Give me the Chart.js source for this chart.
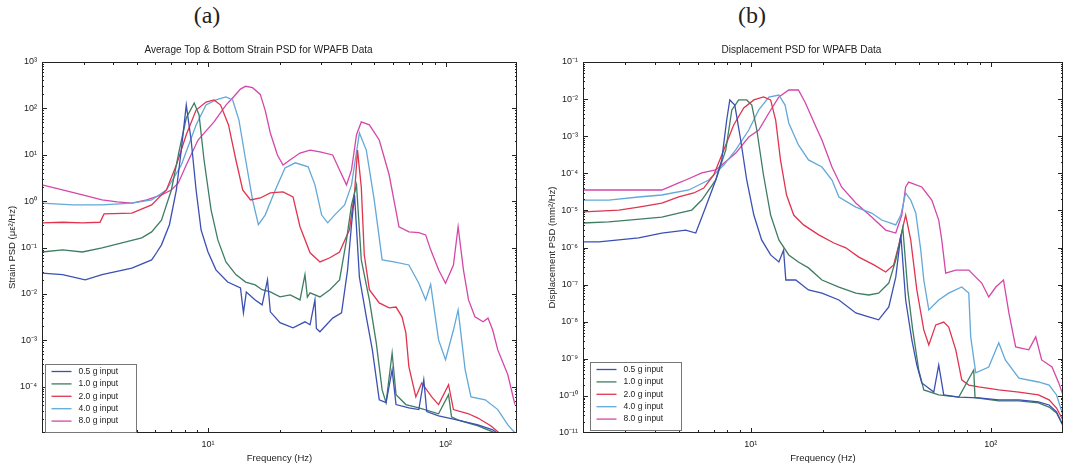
<!DOCTYPE html>
<html>
<head>
<meta charset="utf-8">
<script src="https://cdn.jsdelivr.net/npm/chart.js@4.4.1/dist/chart.umd.min.js"></script>
<style>
  html, body { margin: 0; padding: 0; background: #fff; }
  #page { position: relative; width: 1066px; height: 470px; overflow: hidden; background: #fff; }
  .tag { position: absolute; top: 3px; font: 24px "Liberation Serif", "DejaVu Serif", serif; color: #222; line-height: 1; transform: translateX(-50%); }
  canvas { position: absolute; }
</style>
</head>
<body>
<div id="page">
  <div class="tag" style="left:207px">(a)</div>
  <div class="tag" style="left:752px">(b)</div>
  <canvas id="chartA" width="530" height="430" style="left:0;top:40px"></canvas>
  <canvas id="chartB" width="526" height="430" style="left:540px;top:40px"></canvas>
</div>
<script>
// ===== DADOS =====
// [Hz, PSD]
const seriesNames = ['0.5 g input', '1.0 g input', '2.0 g input', '4.0 g input', '8.0 g input'];
const seriesColors = ['#3c50b4', '#3f7d62', '#e0344f', '#63a8d8', '#d447a8'];

const xTicks = [10, 100];
const xTickLabels = ['10¹', '10²'];

const yTicksA = [1e3, 1e2, 1e1, 1e0, 1e-1, 1e-2, 1e-3, 1e-4];
const yTickLabelsA = ['10³', '10²', '10¹', '10⁰', '10⁻¹', '10⁻²', '10⁻³', '10⁻⁴'];
const yTicksB = [1e-1, 1e-2, 1e-3, 1e-4, 1e-5, 1e-6, 1e-7, 1e-8, 1e-9, 1e-10, 1e-11];
const yTickLabelsB = ['10⁻¹', '10⁻²', '10⁻³', '10⁻⁴', '10⁻⁵', '10⁻⁶', '10⁻⁷', '10⁻⁸', '10⁻⁹', '10⁻¹⁰', '10⁻¹¹'];

// (a) strain PSD
const strain05 = [[2,0.028],[2.44,0.026],[3.04,0.020],[3.58,0.026],[4.78,0.036],[5.79,0.054],[6.07,0.077],[6.37,0.114],[6.88,0.31],[7.36,1.74],[7.72,12.7],[8.1,118],[8.49,20.8],[8.91,1.74],[9.35,0.24],[10,0.080],[10.8,0.033],[12.1,0.018],[13.7,0.0135],[14.1,0.0039],[14.5,0.011],[15.8,0.0074],[16.9,0.0058],[17.8,0.020],[18.3,0.0041],[20.1,0.0024],[22.8,0.00185],[25.6,0.0025],[26.9,0.00215],[28.2,0.0074],[28.6,0.0018],[29.6,0.00152],[33.5,0.0030],[36.5,0.0039],[38.7,0.033],[40.2,0.31],[41.4,1.36],[43.4,0.023],[46.4,0.0032],[49.2,6.2e-4],[52.6,5.2e-5],[56.2,4.5e-5],[59.6,2.3e-4],[61.9,4.1e-5],[70.1,3.5e-5],[77.2,3.2e-5],[81,1.4e-4],[83.4,2.9e-5],[93.5,2.35e-5],[113,1.9e-5],[137,1.5e-5],[158,1.17e-5],[175,8e-6]];
const strain10 = [[2,0.080],[2.44,0.089],[2.96,0.080],[3.58,0.098],[4.34,0.126],[5.26,0.161],[5.79,0.217],[6.37,0.39],[7.01,1.74],[7.57,12.6],[8.1,62],[8.75,131],[9.17,72],[9.62,7.8],[10.3,0.65],[11,0.146],[11.9,0.049],[13.1,0.026],[14.4,0.018],[15.8,0.0156],[16.9,0.0123],[18.3,0.011],[20.1,0.0086],[22.2,0.0095],[24.4,0.0074],[25.6,0.026],[26.2,0.0085],[26.9,0.0105],[29.6,0.0086],[32.6,0.0123],[35.8,0.020],[38.3,0.146],[40.2,0.83],[42.2,2.24],[44.2,0.054],[47.8,0.0074],[51.1,8.8e-4],[54.1,8.5e-5],[56.2,4.5e-5],[59.6,5.3e-4],[61.9,6.7e-5],[68.1,4.1e-5],[77.2,3.5e-5],[93.5,2.6e-5],[103,6.7e-5],[106,2.24e-5],[113,1.9e-5],[137,1.43e-5],[158,1.06e-5],[169,8.5e-6]];
const strain20 = [[2,0.34],[2.44,0.35],[2.96,0.34],[3.51,0.35],[3.65,0.53],[4.78,0.55],[5.79,0.83],[6.68,1.74],[7.36,6.0],[8.1,27],[8.91,92],[9.81,137],[10.6,152],[11.3,118],[12.2,44],[13.1,7.8],[14,1.74],[15.1,1.06],[16.6,1.17],[18.3,1.5],[20.7,1.58],[22.8,1.23],[24.4,0.28],[26.9,0.077],[29.6,0.049],[32.6,0.060],[35.8,0.080],[39.4,0.24],[41.4,1.5],[42.6,12.6],[44.2,2.0],[45.5,0.069],[47.8,0.0123],[52.6,0.0064],[57.9,0.005],[61.9,0.0052],[65.6,0.0032],[68.1,0.00144],[70.1,2.7e-4],[75,6.0e-5],[79.4,1.2e-4],[87.5,6.0e-5],[93.5,4.1e-5],[103,1.1e-4],[108,3.2e-5],[125,2.6e-5],[137,2.1e-5],[155,1.43e-5],[166,1.06e-5],[175,8.5e-6]];
const strain40 = [[2,0.91],[2.69,0.83],[3.58,0.83],[4.78,0.91],[5.79,1.06],[6.68,1.74],[7.72,6.0],[8.91,44],[9.81,118],[10.8,152],[11.9,176],[12.7,152],[13.5,56],[14.4,7.8],[15.4,1.06],[16.3,0.31],[17.4,0.50],[19.2,1.74],[21.1,5.2],[23.3,6.7],[26.4,5.5],[28.2,2.24],[30.1,0.50],[31.9,0.34],[34.1,0.50],[37.6,0.83],[40.2,2.24],[43.4,29.5],[46.4,12.6],[50.1,1.06],[54.1,0.054],[60.7,0.049],[70.1,0.042],[77.2,0.017],[82.5,0.0074],[86.6,0.016],[93.5,0.00102],[100,3.8e-4],[108,0.00166],[113,0.0045],[121,2.3e-4],[128,6.0e-5],[147,5.2e-5],[166,3.2e-5],[183,1.5e-5],[200,9e-6]];
const strain80 = [[2,2.24],[2.44,1.74],[2.96,1.36],[3.58,1.06],[4.14,0.96],[4.78,0.91],[5.52,1.06],[6.37,1.36],[7.01,1.74],[7.5,2.47],[8.1,6.0],[9.08,20.8],[10.6,51],[11.9,118],[12.8,176],[13.7,260],[14.4,300],[15.4,280],[16.6,200],[17.4,92],[18.3,29.5],[19.6,9.9],[20.7,6.0],[22.2,7.8],[24.4,10.9],[26.9,12.6],[29.6,11.5],[33.5,9.9],[35.8,4.7],[38.3,2.24],[40.2,4.7],[42.2,27],[44.2,51],[47.8,44],[52.6,20.8],[57.9,3.7],[63.7,0.28],[70.1,0.217],[77.2,0.21],[82.5,0.187],[86.6,0.089],[93.5,0.033],[100,0.017],[108,0.042],[113,0.28],[119,0.033],[125,0.0074],[133,0.0032],[144,0.0025],[151,0.0030],[158,0.00166],[166,6.2e-4],[183,1.8e-4],[196,4.1e-5]];

// (b) displacement PSD
const disp05 = [[2,1.41e-6],[2.33,1.41e-6],[2.82,1.6e-6],[3.41,1.82e-6],[4.26,2.45e-6],[5.36,2.95e-6],[5.9,2.45e-6],[6.49,1.23e-5],[7.15,6.6e-5],[7.57,2.29e-4],[7.94,2.73e-3],[8.18,9.5e-3],[8.58,6.9e-3],[9.08,7.9e-4],[9.62,6.6e-5],[10.3,7.5e-6],[11.1,1.6e-6],[12.1,6.3e-7],[13.1,4.07e-7],[13.7,8.5e-7],[14,1.33e-7],[15.4,1.33e-7],[17.4,7.2e-8],[19.8,5.9e-8],[23.3,3.85e-8],[27.4,1.72e-8],[31,1.35e-8],[34.1,1.12e-8],[37.6,2.5e-8],[40.2,1.59e-7],[42.2,2.19e-6],[44.2,3.85e-8],[46.9,3.24e-9],[49.2,6.8e-10],[51.6,2.24e-10],[57.9,1.27e-10],[60.7,6.8e-10],[63.7,1.06e-10],[73.6,9.3e-11],[89.1,8.8e-11],[108,7.8e-11],[131,7.8e-11],[158,6.9e-11],[175,5.7e-11],[188,3.7e-11],[200,1.6e-11]];
const disp10 = [[2,4.57e-6],[2.56,4.9e-6],[3.1,5.5e-6],[4.26,6.6e-6],[5.01,8.5e-6],[5.68,1.02e-5],[6.25,1.9e-5],[7.15,6.6e-5],[7.87,4.26e-4],[8.34,5.1e-3],[8.91,9.5e-3],[9.62,9.5e-3],[10.1,6.9e-3],[10.6,1.47e-3],[11.3,9.0e-5],[12.1,7.5e-6],[13.1,1.6e-6],[14.4,6.3e-7],[15.8,4.07e-7],[17.4,2.82e-7],[19.8,1.33e-7],[23.3,8.6e-8],[27.4,5.9e-8],[31,5.25e-8],[34.1,5.9e-8],[37.6,1.1e-7],[40.2,4.6e-7],[43,3.4e-6],[45.1,7.2e-8],[47.3,6.0e-9],[50.1,5.0e-10],[52.6,1.45e-10],[60.7,1.06e-10],[73.6,9.3e-11],[84.9,5.0e-10],[86,9.0e-11],[108,7.3e-11],[131,7.3e-11],[158,6.5e-11],[175,5.0e-11],[188,3.45e-11],[200,1.6e-11]];
const disp20 = [[2,9.1e-6],[2.33,9.6e-6],[2.82,1.02e-5],[3.41,1.23e-5],[4.26,1.58e-5],[5.01,2.3e-5],[5.79,2.95e-5],[6.37,4.0e-5],[7.01,9.0e-5],[7.72,4.26e-4],[8.49,2.0e-3],[9.35,5.75e-3],[10.3,9.5e-3],[11.3,1.14e-2],[12.1,9.5e-3],[12.7,2.73e-3],[13.3,2.29e-4],[14.1,2.6e-5],[15.1,7.5e-6],[16.6,4.07e-6],[19.2,2.19e-6],[22.2,1.32e-6],[24.9,9.8e-7],[28.2,5.5e-7],[32.6,3.39e-7],[36.5,2.19e-7],[39.4,3.39e-7],[41.4,1.17e-6],[44.2,7.5e-6],[46.4,1.6e-6],[49.2,7.2e-8],[52.6,6.0e-9],[55.2,2.36e-9],[59,8.2e-9],[63.7,9.8e-9],[66.8,7.2e-9],[71.5,1.74e-9],[75.7,2.7e-10],[81,1.96e-10],[89.1,1.74e-10],[108,1.45e-10],[131,1.27e-10],[158,1.06e-10],[175,7.8e-11],[188,4.7e-11],[200,2.2e-11]];
const disp40 = [[2,1.9e-5],[2.56,1.9e-5],[3.41,2.3e-5],[4.26,2.6e-5],[5.52,3.55e-5],[6.68,6.6e-5],[7.72,1.67e-4],[8.66,4.26e-4],[9.81,1.47e-3],[10.8,5.1e-3],[11.9,1.14e-2],[13.1,1.29e-2],[13.9,6.9e-3],[14.4,2.27e-3],[15.8,5.8e-4],[17.4,2.29e-4],[19.8,1.48e-4],[21.8,6.6e-5],[23.3,2.3e-5],[27.4,1.23e-5],[31.9,8.5e-6],[35.1,5.5e-6],[40.2,4.07e-6],[42.2,7.5e-6],[44.2,2.95e-5],[46.4,1.9e-5],[48.7,8.5e-6],[51.1,8.5e-7],[52.6,1.33e-7],[55.2,2.07e-8],[60.7,3.85e-8],[66.8,5.9e-8],[75.7,8.6e-8],[81,5.9e-8],[82.5,3.9e-9],[86.6,4.2e-10],[98.1,6.0e-10],[108,2.7e-9],[115,9.3e-10],[131,3.0e-10],[158,2.37e-10],[175,1.96e-10],[188,1.06e-10],[200,3e-11]];
const disp80 = [[2,3.55e-5],[3.1,3.55e-5],[4.26,3.55e-5],[5.01,5.5e-5],[5.36,6.6e-5],[6.25,1.02e-4],[7.15,1.23e-4],[7.57,1.67e-4],[8.66,3.5e-4],[9.81,9.5e-4],[10.8,1.47e-3],[11.9,4.22e-3],[13.1,1.14e-2],[14.4,1.76e-2],[15.8,1.76e-2],[16.9,7.85e-3],[18.7,1.77e-3],[19.8,7.9e-4],[21.8,1.48e-4],[23.9,4.27e-5],[27.4,1.58e-5],[31.9,6.6e-6],[36.5,2.95e-6],[40.2,2.45e-6],[42.6,7.5e-6],[44.2,4.27e-5],[45.5,5.8e-5],[51.6,4.27e-5],[56.8,1.9e-5],[60.7,5.5e-6],[62.5,1.6e-6],[64.9,2.04e-7],[71.5,2.47e-7],[81,2.47e-7],[91.7,1.1e-7],[98.1,4.65e-8],[105,8.6e-8],[113,1.33e-7],[119,1.72e-8],[127,2.08e-9],[144,1.74e-9],[154,3.9e-9],[163,9.3e-10],[180,6.0e-10],[192,2.24e-10],[200,1.06e-10]];

const FONT = '"Liberation Sans", Arial, sans-serif';
const INK = '#222';

// ===== PLUGINS =====
// moldura + ticks para dentro (estilo MATLAB)
const frameTicks = {
  id: 'frameTicks',
  afterDatasetsDraw(chart) {
    const { ctx, chartArea: a, scales: { x, y } } = chart;
    ctx.save();
    ctx.strokeStyle = INK;
    ctx.lineWidth = 1;
    ctx.strokeRect(Math.round(a.left) + 0.5, Math.round(a.top) + 0.5, Math.round(a.width) - 1, Math.round(a.height) - 1);
    ctx.beginPath();
    for (let e = Math.floor(Math.log10(x.min)); e <= Math.ceil(Math.log10(x.max)); e++) {
      for (let m = 1; m <= 9; m++) {
        const v = m * Math.pow(10, e);
        if (v <= x.min || v >= x.max) continue;
        const px = Math.round(x.getPixelForValue(v)) + 0.5;
        const len = m === 1 ? 5 : 3;
        ctx.moveTo(px, a.bottom); ctx.lineTo(px, a.bottom - len);
        ctx.moveTo(px, a.top); ctx.lineTo(px, a.top + len);
      }
    }
    for (let e = Math.floor(Math.log10(y.min)); e <= Math.ceil(Math.log10(y.max)); e++) {
      for (let m = 1; m <= 9; m++) {
        const v = m * Math.pow(10, e);
        if (v <= y.min * 1.0001 || v >= y.max * 0.9999) continue;
        const py = Math.round(y.getPixelForValue(v)) + 0.5;
        const len = m === 1 ? 5 : 2;
        ctx.moveTo(a.left, py); ctx.lineTo(a.left + len, py);
        ctx.moveTo(a.right, py); ctx.lineTo(a.right - len, py);
      }
    }
    ctx.stroke();
    ctx.restore();
  }
};

const psdLegend = {
  id: 'psdLegend',
  afterDraw(chart, args, opts) {
    const { ctx, chartArea: a } = chart;
    const w = 91, rowH = 12.4, h = 68;
    const bx = Math.round(a.left + opts.dx) + 0.5;
    const by = Math.round(a.bottom - h - opts.dy) + 0.5;
    ctx.save();
    ctx.fillStyle = '#fff';
    ctx.fillRect(bx, by, w, h);
    ctx.strokeStyle = '#777';
    ctx.lineWidth = 1;
    ctx.strokeRect(bx, by, w, h);
    ctx.font = '8.5px ' + FONT;
    ctx.textBaseline = 'middle';
    chart.data.datasets.forEach((ds, i) => {
      const yy = by + 7 + i * rowH;
      ctx.strokeStyle = ds.borderColor;
      ctx.lineWidth = 1.3;
      ctx.beginPath();
      ctx.moveTo(bx + 6, yy); ctx.lineTo(bx + 26, yy);
      ctx.stroke();
      ctx.fillStyle = INK;
      ctx.fillText(ds.label, bx + 33, yy);
    });
    ctx.restore();
  }
};

// ===== GRÁFICOS =====
function gerarPainel(id, series, yTicks, yLabels, yMin, yMax, titulo, yTitulo, yWidth, padRight, leg) {
  return new Chart(document.getElementById(id), {
    type: 'line',
    data: {
      datasets: series.map((s, i) => ({
        label: seriesNames[i],
        data: s.map(p => ({ x: p[0], y: p[1] })),
        borderColor: seriesColors[i],
        borderWidth: 1.3,
        pointRadius: 0,
        tension: 0,
        fill: false
      }))
    },
    options: {
      responsive: false,
      animation: false,
      layout: { padding: { left: 0, right: padRight, top: 0, bottom: 0 } },
      plugins: {
        legend: { display: false },
        tooltip: { enabled: false },
        title: {
          display: true,
          text: titulo,
          color: INK,
          font: { family: FONT, size: 10, weight: 'normal' },
          padding: { top: 4, bottom: 6 }
        },
        psdLegend: leg
      },
      scales: {
        x: {
          type: 'logarithmic',
          min: 2, max: 200,
          grid: { display: false, drawTicks: false },
          border: { display: false },
          afterBuildTicks: s => { s.ticks = xTicks.map(v => ({ value: v })); },
          afterFit: s => { s.height = 37; },
          ticks: {
            autoSkip: false, maxRotation: 0, padding: 6,
            color: INK, font: { family: FONT, size: 9 },
            callback: (v, i) => xTickLabels[i]
          },
          title: {
            display: true, text: 'Frequency (Hz)', color: INK,
            font: { family: FONT, size: 9.5 }, padding: { top: 0, bottom: 6 }
          }
        },
        y: {
          type: 'logarithmic',
          min: yMin, max: yMax,
          grid: { display: false, drawTicks: false },
          border: { display: false },
          afterBuildTicks: s => { s.ticks = yTicks.map(v => ({ value: v })); },
          afterFit: s => { s.width = yWidth; },
          ticks: {
            autoSkip: false, padding: 5,
            color: INK, font: { family: FONT, size: 9 },
            callback: (v, i) => yLabels[i]
          },
          title: {
            display: true, text: yTitulo, color: INK,
            font: { family: FONT, size: 9.5 }, padding: { top: 7, bottom: 0 }
          }
        }
      }
    },
    plugins: [frameTicks, psdLegend]
  });
}

gerarPainel('chartA', [strain05, strain10, strain20, strain40, strain80],
  yTicksA, yTickLabelsA, 1e-5, 1e3,
  'Average Top & Bottom Strain PSD for WPAFB Data', 'Strain PSD (με²/Hz)', 42, 13, { dx: 3, dy: 1 });

gerarPainel('chartB', [disp05, disp10, disp20, disp40, disp80],
  yTicksB, yTickLabelsB, 1e-11, 1e-1,
  'Displacement PSD for WPAFB Data', 'Displacement PSD (mm²/Hz)', 43, 3, { dx: 7, dy: 3 });
</script>
</body>
</html>
